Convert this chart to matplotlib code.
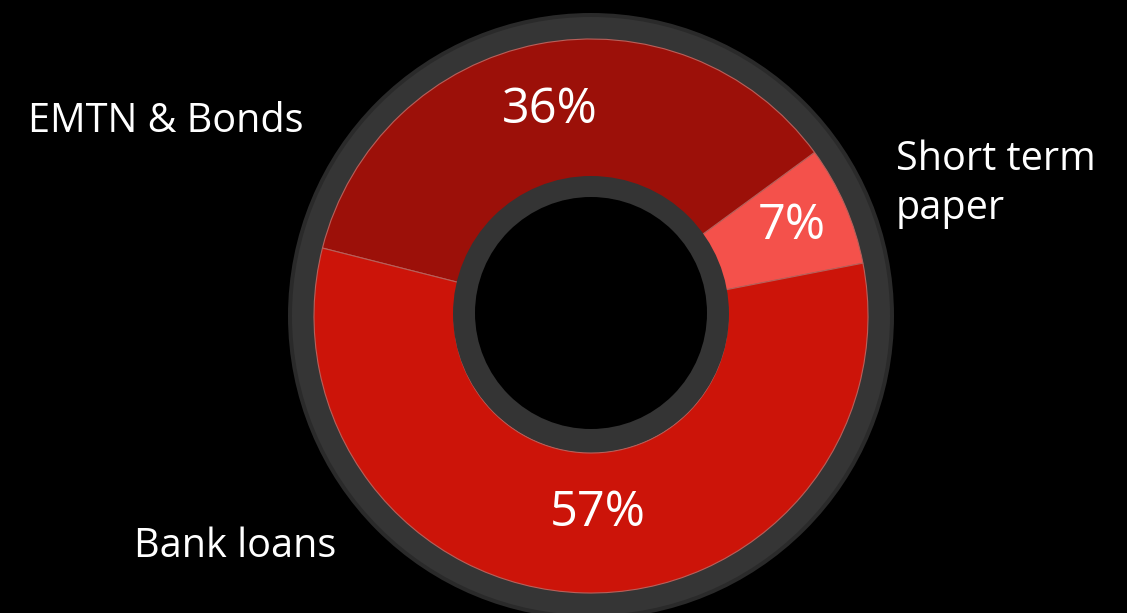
import matplotlib
matplotlib.use("Agg")
import matplotlib.pyplot as plt
from matplotlib.patches import Circle

# funding mix, counter-clockwise from the right-hand side
labels = ["Short term paper", "EMTN & Bonds", "Bank loans"]
shares = [7, 36, 57]
colors = ["#f4514b", "#9c1009", "#cc1409"]

W, H = 1127, 613
CX, CY = 591, 316
R_OUT, R_IN = 277, 137

plt.rcParams["font.family"] = ["Open Sans", "DejaVu Sans"]

fig = plt.figure(figsize=(W / 100, H / 100), dpi=100, facecolor="black")
ax = fig.add_axes([0, 0, 1, 1])
ax.set_facecolor("black")

# dark grey bezel behind the ring, a touch lighter in the middle of the band
ax.add_patch(Circle((CX, CY), 303, facecolor="#2a2a2a", edgecolor="none", zorder=1))
ax.add_patch(Circle((CX, CY), 299, facecolor="#353535", edgecolor="none", zorder=1))

# y is flipped below, so clockwise in data = counter-clockwise on screen
wedges, _ = ax.pie(
    shares, colors=colors, center=(CX, CY), radius=R_OUT,
    startangle=-11, counterclock=False,
    wedgeprops=dict(width=R_OUT - R_IN, edgecolor="#b8605a", linewidth=0.8),
    frame=True,
)
for w in wedges:
    w.set_zorder(2)

# inner bezel and hole
ax.add_patch(Circle((CX, CY - 2), R_IN + 1, facecolor="#343434", edgecolor="none", zorder=3))
ax.add_patch(Circle((CX, CY - 3), 116, facecolor="black", edgecolor="none", zorder=4))

ax.set_xlim(0, W)
ax.set_ylim(H, 0)  # pixel-style coordinates, y down
ax.set_aspect("equal")
ax.axis("off")

pct_style = dict(color="white", fontsize=35, ha="center", va="center", zorder=5)
ax.text(550, 110, f"{shares[1]}%", **pct_style)
ax.text(792, 226, f"{shares[0]}%", **pct_style)
ax.text(598, 513, f"{shares[2]}%", **pct_style)

lab_style = dict(color="white", fontsize=28.5, ha="left", va="baseline", zorder=5)
ax.text(28, 132, labels[1], **lab_style)
ax.text(896, 170, "Short term", **lab_style)
ax.text(896, 219, "paper", **lab_style)
ax.text(134, 557, labels[2], **lab_style)

fig.savefig("out.png", dpi=100, facecolor="black")
